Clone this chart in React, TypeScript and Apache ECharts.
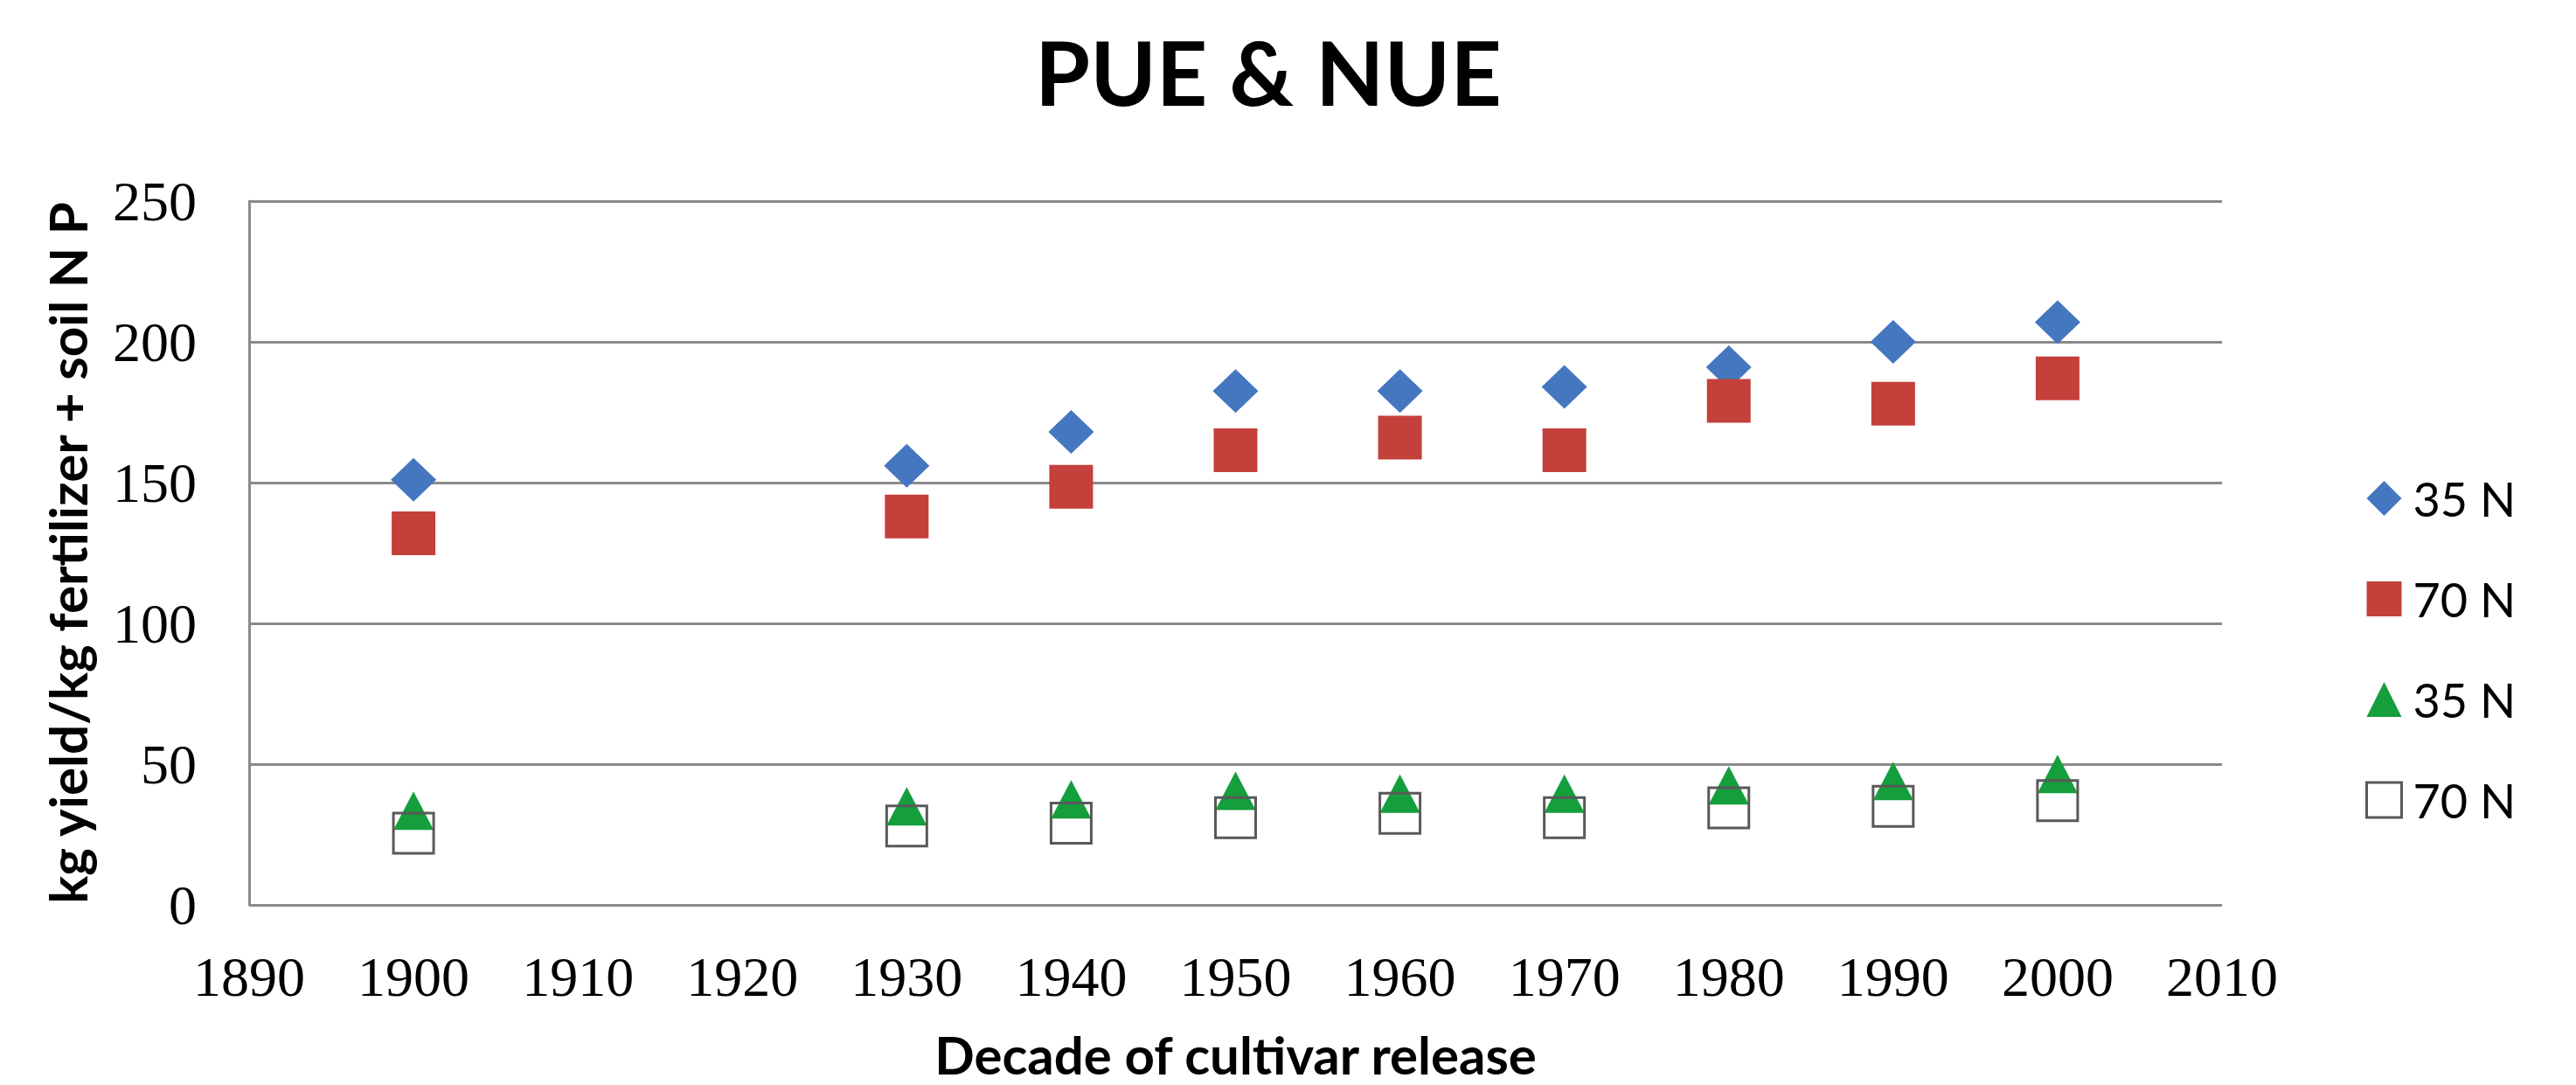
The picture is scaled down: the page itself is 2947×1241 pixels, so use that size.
import React, { useEffect, useRef } from "react";
import * as echarts from "echarts";

// Decades of cultivar release
const years = [1900, 1930, 1940, 1950, 1960, 1970, 1980, 1990, 2000];
// Series values (kg yield / kg fertilizer + soil N P)
const diamond35N = [151, 156, 168, 182.5, 182.5, 184, 191, 200, 207];
const square70N = [132, 138, 148.5, 161.5, 166, 161.5, 179, 178, 187];
const triangle35N = [33.5, 35, 37.5, 40.5, 39.5, 39.5, 42.5, 44, 46.5];
const openSquare70N = [25.5, 28, 29, 31, 32.5, 31, 34.5, 35, 37];

const legendNames = ["35 N", "70 N", "35 N ", "70 N "];
const xMin = 1890;
const xMax = 2010;
const xStep = 10;
const yMin = 0;
const yMax = 250;
const yStep = 50;

const zip = (vals: number[]) => years.map((y, i) => [y, vals[i]]);

export default function App() {
  const ref = useRef<HTMLDivElement>(null);
  useEffect(() => {
    document.body.style.margin = "0";
    if (!ref.current) return;
    const chart = echarts.init(ref.current, undefined, { renderer: "svg" });
    const gridColor = "#8a8a8a";
    const openStyle = { color: "rgba(0,0,0,0)", borderColor: "#595959", borderWidth: 3, opacity: 1 };
    chart.setOption({
      animation: false,
      backgroundColor: "#ffffff",
      title: {
        text: "PUE & NUE",
        left: 1184,
        top: 30,
        padding: 0,
        textStyle: { fontFamily: "Lato", fontWeight: "bold", fontSize: 102, color: "#000" },
      },
      legend: {
        orient: "vertical",
        left: 2701,
        top: 538,
        itemWidth: 40,
        itemHeight: 40,
        itemGap: 61,
        textStyle: { fontFamily: "Lato", fontSize: 54, color: "#000", lineHeight: 40, padding: [0, 0, 0, 8] },
        data: [
          { name: legendNames[0], icon: "diamond" },
          { name: legendNames[1], icon: "rect" },
          { name: legendNames[2], icon: "triangle" },
          { name: legendNames[3], icon: "rect", itemStyle: openStyle },
        ],
      },
      grid: { left: 285, right: 405, top: 230, bottom: 200 },
      xAxis: {
        type: "value",
        min: xMin,
        max: xMax,
        interval: xStep,
        axisLine: { show: false },
        axisTick: { show: false },
        splitLine: { show: false },
        axisLabel: {
          fontFamily: "Liberation Serif",
          fontSize: 64,
          color: "#000",
          margin: 50,
          formatter: (v: number) => String(v),
        },
        name: "Decade of cultivar release",
        nameLocation: "middle",
        nameGap: 141,
        nameTextStyle: { fontFamily: "Lato", fontWeight: "bold", fontSize: 60, color: "#000" },
      },
      yAxis: {
        type: "value",
        min: yMin,
        max: yMax,
        interval: yStep,
        axisLine: { show: true, lineStyle: { color: gridColor, width: 3 } },
        axisTick: { show: false },
        splitLine: { show: true, lineStyle: { color: gridColor, width: 3 } },
        axisLabel: {
          fontFamily: "Liberation Serif",
          fontSize: 64,
          color: "#000",
          margin: 60,
          formatter: (v: number) => String(v),
        },
        name: "kg yield/kg fertilizer + soil N P",
        nameLocation: "middle",
        nameRotate: 90,
        nameGap: 178,
        nameTextStyle: { fontFamily: "Lato", fontWeight: "bold", fontSize: 60, color: "#000" },
      },
      series: [
        {
          type: "scatter",
          name: legendNames[0],
          symbol: "diamond",
          symbolSize: [52, 50],
          itemStyle: { color: "#4477C0", opacity: 1 },
          data: zip(diamond35N),
        },
        {
          type: "scatter",
          name: legendNames[1],
          symbol: "rect",
          symbolSize: 50,
          itemStyle: { color: "#C4403B", opacity: 1 },
          data: zip(square70N),
        },
        {
          type: "scatter",
          name: legendNames[2],
          symbol: "triangle",
          symbolSize: [46, 44],
          itemStyle: { color: "#159E3C", opacity: 1 },
          data: zip(triangle35N),
        },
        {
          type: "scatter",
          name: legendNames[3],
          symbol: "rect",
          symbolSize: 46,
          itemStyle: openStyle,
          data: zip(openSquare70N),
        },
      ],
    });
    return () => chart.dispose();
  }, []);
  return <div ref={ref} style={{ width: 2947, height: 1241 }} />;
}
